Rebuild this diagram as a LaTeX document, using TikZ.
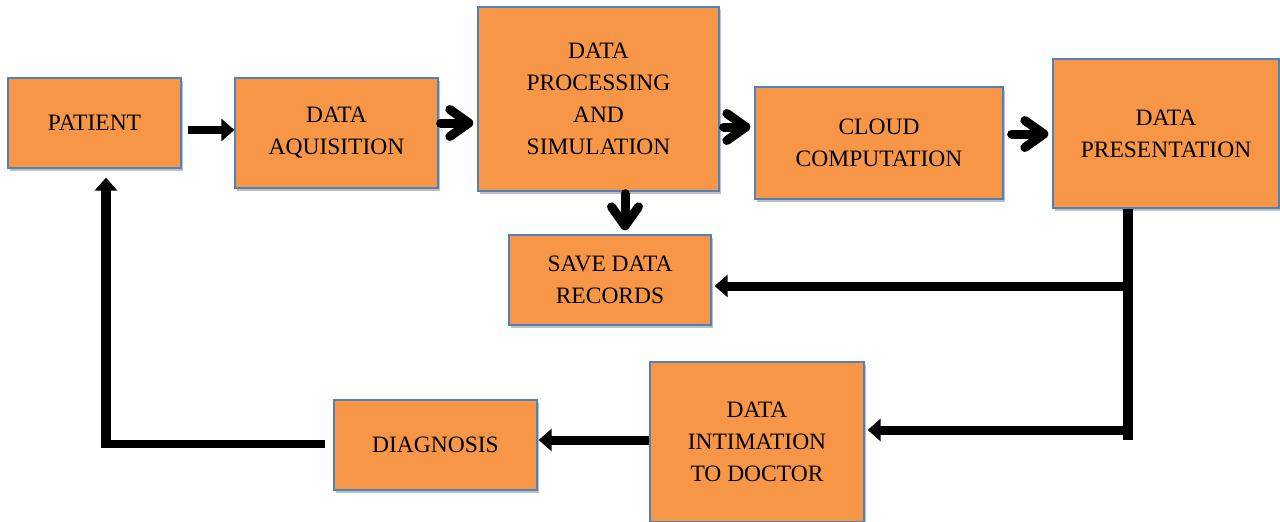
\documentclass[tikz,border=0pt]{standalone}
\usepackage{fontspec}
\setmainfont{Liberation Serif}
\usetikzlibrary{arrows.meta,shadows}
\definecolor{boxfill}{HTML}{F79646}
\definecolor{boxline}{HTML}{4F81BD}
\tikzset{
  box/.style={draw=boxline, line width=1.3pt, fill=boxfill, align=center, inner sep=0pt,
    font=\fontsize{23.5}{32}\selectfont,
    drop shadow={shadow xshift=2pt, shadow yshift=-3pt, opacity=0.25, fill=black}},
  tri/.style={line width=9pt, -{Triangle[length=13pt,width=22pt]}},
  chev/.style={line width=9pt, line cap=round, -{Straight Barb[length=19pt,width=27pt,round]}},
  bar/.style={line width=10pt}
}
\begin{document}
\begin{tikzpicture}[x=1pt,y=-1pt]
\useasboundingbox (0,0) rectangle (1280,522);
\node[box, minimum width=173pt, minimum height=90pt] (pat) at (94.5,123) {PATIENT};
\node[box, minimum width=203pt, minimum height=110pt] (daq) at (336.5,133) {DATA\\AQUISITION};
\node[box, minimum width=241pt, minimum height=184pt] (dps) at (598.5,99) {DATA\\PROCESSING\\AND\\SIMULATION};
\node[box, minimum width=248pt, minimum height=112pt] (cld) at (879,143) {CLOUD\\COMPUTATION};
\node[box, minimum width=226pt, minimum height=149pt] (dpr) at (1166,133.5) {DATA\\PRESENTATION};
\node[box, minimum width=202pt, minimum height=90pt] (sav) at (610,280) {SAVE DATA\\RECORDS};
\node[box, minimum width=214pt, minimum height=160pt] (dit) at (757,442) {DATA\\INTIMATION\\TO DOCTOR};
\node[box, minimum width=203pt, minimum height=90pt] (dia) at (435.5,445) {DIAGNOSIS};
\coordinate (vtop) at (dpr.south -| 1128,0);
\coordinate (vbot) at (1128,440);
\coordinate (j1) at (1123,286);
\coordinate (j2) at (1128,430);
\coordinate (lend) at (325,444);
\coordinate (corner) at (106,444);

\draw[tri, line width=8pt] ([xshift=6pt]pat.east |- 0,130) -- (daq.west |- 0,130);
\draw[chev] ([xshift=2pt]daq.east |- 0,123) -- ([xshift=-4pt]dps.west |- 0,123);
\draw[chev] ([xshift=4pt]dps.east |- 0,127) -- ([xshift=-4pt]cld.west |- 0,127);
\draw[chev] ([xshift=8pt]cld.east |- 0,134) -- ([xshift=-4pt]dpr.west |- 0,134);
\draw[chev] ([yshift=-2pt]dps.south -| 625,0) -- ([yshift=4pt]sav.north -| 625,0);
\draw[bar] (vtop) -- (vbot);
\draw[tri] (j1) -- ([xshift=3pt]sav.east |- j1);
\draw[tri] (j2) -- ([xshift=3pt]dit.east |- j2);
\draw[tri] (dit.west |- 0,440) -- ([xshift=1pt]dia.east |- 0,440);
\draw[line width=8pt] (lend) -- ([xshift=-5pt]corner);
\draw[tri, line width=10pt] (corner) -- ([yshift=-9pt]pat.south -| corner);
\end{tikzpicture}
\end{document}
